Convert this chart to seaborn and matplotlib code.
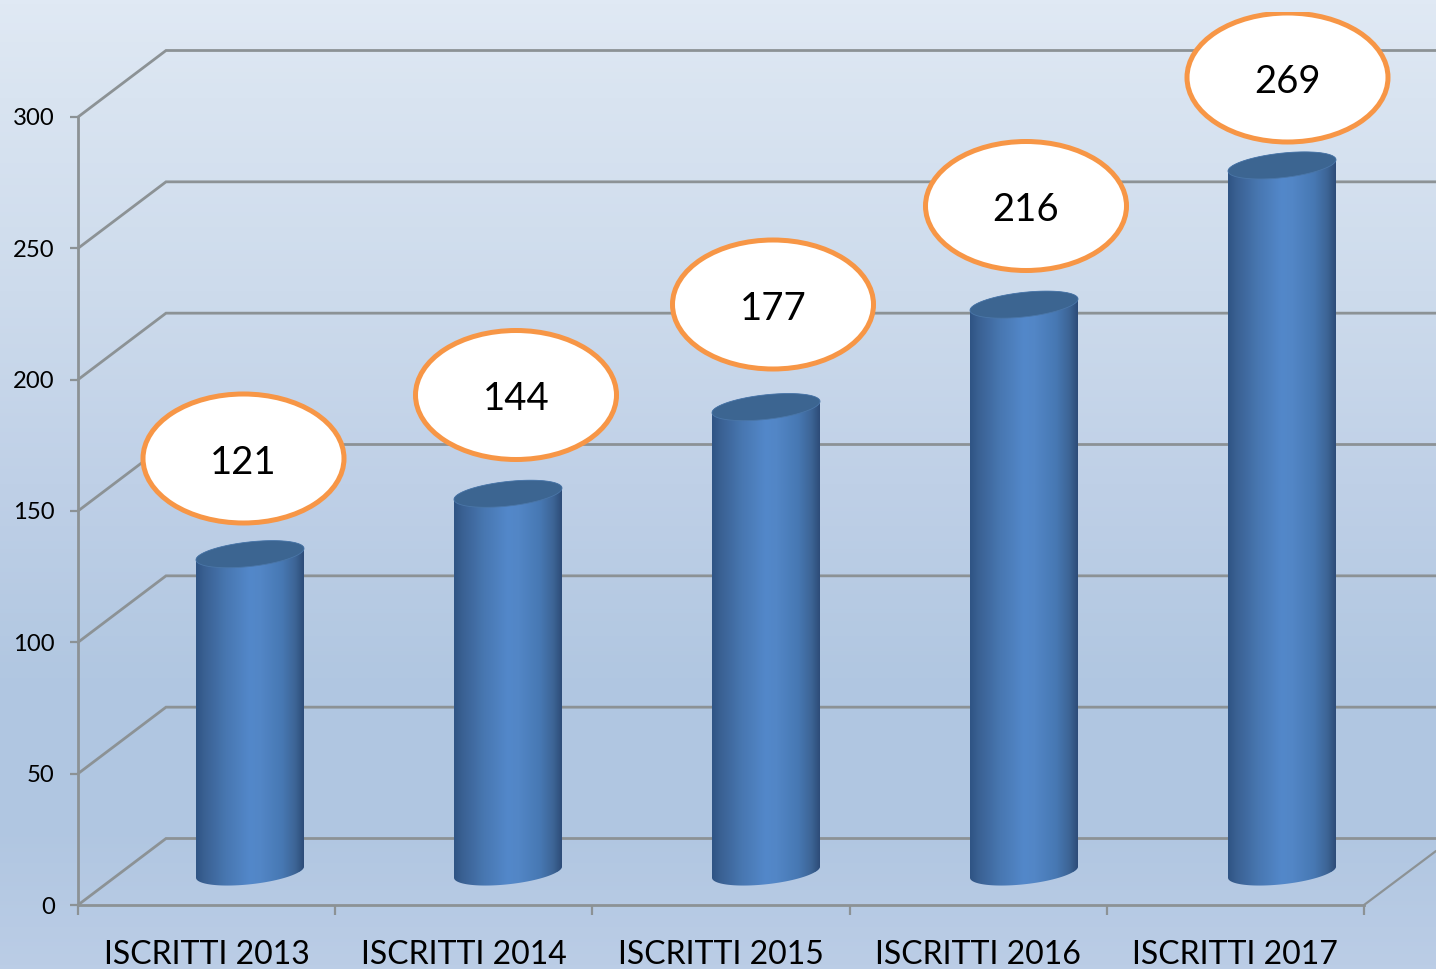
import numpy as np
import pandas as pd
import matplotlib
matplotlib.use("Agg")
import matplotlib.pyplot as plt
import seaborn as sns
from matplotlib.colors import LinearSegmentedColormap
from matplotlib.patches import Ellipse, Polygon, Rectangle

# ---- data ----
categories = ["ISCRITTI 2013", "ISCRITTI 2014", "ISCRITTI 2015", "ISCRITTI 2016", "ISCRITTI 2017"]
values = [121, 144, 177, 216, 269]
y_ticks = [0, 50, 100, 150, 200, 250, 300]

# ---- layout (reference pixels) ----
W, H = 1436, 969
LEFT, RIGHT, BOTTOM, TOP = 78, 1364, 905, 117
CAT_PX = (RIGHT - LEFT) / len(categories)
VAL_PX = (BOTTOM - TOP) / 300
DEPTH_X, DEPTH_Y = 88, 66.5         # front plane -> back wall
BAR_W, CAP_B, CAP_K = 108, 12.3, 0.105
bar_px_x = [250, 508, 766, 1024, 1282]
bubble_px_x = [243.5, 516, 773, 1026, 1287.5]
bubble_px_y = [458.5, 395, 304.5, 206, 77.5]
BUB_W, BUB_H = 201, 129

LINE = "#8c9295"
ORANGE = "#f79646"

sns.set_theme(style="white")
plt.rcParams["font.family"] = ["Lato", "DejaVu Sans"]

fig = plt.figure(figsize=(W / 100, H / 100), dpi=100)

# background
bg = fig.add_axes([0, 0, 1, 1], zorder=-1)
bg.axis("off")
bg_cmap = LinearSegmentedColormap.from_list(
    "bg",
    [(0, "#e0e9f4"), (0.1, "#d9e4f1"), (0.3, "#cddbec"), (0.5, "#bfd0e7"),
     (0.7, "#b1c7e1"), (0.85, "#b0c6e1"), (1, "#bbcde6")],
)
bg.imshow(np.linspace(0, 1, 256)[:, None], cmap=bg_cmap, aspect="auto", vmin=0, vmax=1)

ax = fig.add_axes([LEFT / W, 1 - BOTTOM / H, (RIGHT - LEFT) / W, (BOTTOM - TOP) / H])
ax.patch.set_alpha(0)


def dx(px):
    return px / CAT_PX


def dy(px):
    return px / VAL_PX


def x_of(px):
    return -0.5 + (px - LEFT) / CAT_PX


def y_of(py):
    return (BOTTOM - py) / VAL_PX


df = pd.DataFrame({"cat": categories, "val": values})
sns.barplot(data=df, x="cat", y="val", ax=ax, width=BAR_W / CAT_PX, color="#4a7ab5",
            saturation=1, linewidth=0, zorder=3)

ax.set_xlim(-0.5, len(categories) - 0.5)
ax.set_ylim(0, 300)

# back-wall grid
x0, xb, xr = -0.5, -0.5 + dx(DEPTH_X), x_of(W)
for v in y_ticks:
    ax.plot([x0, xb, xr], [v, v + dy(DEPTH_Y), v + dy(DEPTH_Y)], color=LINE, lw=2.0,
            clip_on=False, zorder=1, solid_joinstyle="miter")
ax.plot([len(categories) - 0.5, xr], [0, dy(54)], color=LINE, lw=1.6, clip_on=False, zorder=1)

# cylinders
off_y = dy(33)
grad_cmap = LinearSegmentedColormap.from_list(
    "cyl",
    [(0, "#2f5484"), (0.08, "#3a6193"), (0.28, "#4877b1"), (0.5, "#5388ca"), (0.6, "#5286c6"),
     (0.8, "#4778b3"), (0.92, "#3d6596"), (1, "#2d4c78")],
)
t = np.linspace(0, 2 * np.pi, 181)
ux = BAR_W / 2 * np.cos(t)
uy = CAP_B * np.sin(t) + CAP_K * ux
upper = t <= np.pi
lower = t >= np.pi
grad = np.linspace(0, 1, 256)[None, :]
for p, val, bpx in zip(list(ax.patches), values, bar_px_x):
    cx = x_of(bpx)
    p.set_x(cx - p.get_width() / 2)
    p.set_y(off_y)
    top = off_y + val
    # outline: upper half of the top rim plus lower half of the base rim
    ox = np.r_[cx + dx(ux[upper]), cx + dx(ux[lower])]
    oy = np.r_[top + dy(uy[upper]), off_y + dy(uy[lower])]
    outline = Polygon(np.c_[ox, oy], closed=True, transform=ax.transData, fc="none", ec="none")
    ax.add_patch(outline)
    p.set_clip_path(outline)
    im = ax.imshow(grad, cmap=grad_cmap, aspect="auto", zorder=4,
                   extent=[cx - dx(BAR_W / 2), cx + dx(BAR_W / 2), off_y - dy(20), top + dy(20)])
    im.set_clip_path(outline)
    cap = Polygon(np.c_[cx + dx(ux), top + dy(uy)], closed=True, fc="#3c6591",
                  ec="#4a76a8", lw=0.6, zorder=5, clip_on=False)
    ax.add_patch(cap)

ax.set_xlim(-0.5, len(categories) - 0.5)
ax.set_ylim(0, 300)

# bubbles
clip_box = Rectangle((0, 0), 1, 1, transform=fig.transFigure)
clip_box.set_bounds(0, 0, 1, 1 - 12 / H)
for val, bx, by in zip(values, bubble_px_x, bubble_px_y):
    e = Ellipse((x_of(bx), y_of(by)), dx(BUB_W), dy(BUB_H), fc="white", ec=ORANGE,
                lw=3.6, zorder=6, clip_on=True)
    ax.add_patch(e)
    e.set_clip_path(clip_box)
    ax.text(x_of(bx), y_of(by + 1), str(val), ha="center", va="center_baseline", fontsize=27.5,
            color="black", zorder=7)

# axes furniture
sns.despine(ax=ax, top=True, right=True)
for s in ("left", "bottom"):
    ax.spines[s].set_color(LINE)
    ax.spines[s].set_linewidth(2.0)
    ax.spines[s].set_zorder(2)
ax.set_xlabel("")
ax.set_ylabel("")
ax.set_yticks(y_ticks)
ax.set_xticks(range(len(categories)))
ax.set_xticklabels(categories)
ax.set_xticks(np.arange(len(categories) + 1) - 0.5, minor=True)
ax.tick_params(axis="y", length=5.8, width=1.6, color=LINE, labelsize=17.2, pad=11, left=True,
               labelcolor="black")
for lab in ax.get_yticklabels():
    lab.set_verticalalignment("center_baseline")
ax.tick_params(axis="x", which="major", length=0, labelsize=23, pad=25, labelcolor="black")
ax.tick_params(axis="x", which="minor", length=7.2, width=1.6, color=LINE, bottom=True)

fig.savefig("out.png", dpi=100)
